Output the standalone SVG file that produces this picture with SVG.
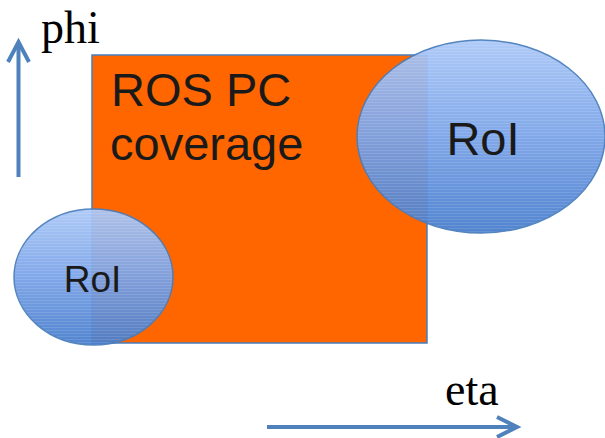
<svg xmlns="http://www.w3.org/2000/svg" width="605" height="438" viewBox="0 0 605 438">
<style>
.sans{font-family:"Liberation Sans",Arial,sans-serif;fill:#1a1a1a}
.serif{font-family:"Liberation Serif","Times New Roman",serif;fill:#000}
.roi{fill:url(#blue);stroke:#4a7ebb;stroke-width:1.5;opacity:0.94}
.stripes{fill:url(#stripes)}
.axis{fill:none;stroke:#4f81bd;stroke-width:4}
</style>
<defs>
<linearGradient id="blue" x1="0" y1="0" x2="0" y2="1">
<stop offset="0" stop-color="#abc8f8"/>
<stop offset="0.5" stop-color="#7aa3e8"/>
<stop offset="1" stop-color="#477dcd"/>
</linearGradient>
<pattern id="stripes" width="4" height="3" patternUnits="userSpaceOnUse">
<rect x="0" y="0" width="4" height="1" fill="#ffffff" fill-opacity="0.12"/>
</pattern>
</defs>
<g id="ros">
<rect x="92" y="55" width="335" height="288" fill="#ff6600" stroke="#4a7ebb" stroke-width="1.5"/>
<text class="sans" x="111" y="106" font-size="47">ROS PC</text>
<text class="sans" x="110" y="160" font-size="47">coverage</text>
</g>
<g id="roi-large">
<ellipse class="roi" cx="481" cy="136.5" rx="124" ry="96.5"/>
<ellipse class="stripes" cx="481" cy="136.5" rx="123" ry="95.5"/>
<text class="sans" x="483" y="155" font-size="47" text-anchor="middle">RoI</text>
</g>
<g id="roi-small">
<ellipse class="roi" cx="93.5" cy="277" rx="79.5" ry="68"/>
<ellipse class="stripes" cx="93.5" cy="277" rx="78.5" ry="67"/>
<text class="sans" x="92.5" y="292" font-size="37" text-anchor="middle">RoI</text>
</g>
<g id="axes">
<line class="axis" x1="18.5" y1="177" x2="18.5" y2="44"/>
<polyline class="axis" points="8,62 18.5,42 29,62" stroke-width="3.5"/>
<line class="axis" x1="267" y1="427" x2="515" y2="427"/>
<polyline class="axis" points="497,417 517,427 497,437" stroke-width="3.5"/>
</g>
<g id="labels">
<text class="serif" x="41" y="43" font-size="46">phi</text>
<text class="serif" x="445" y="405" font-size="46">eta</text>
</g>
</svg>
